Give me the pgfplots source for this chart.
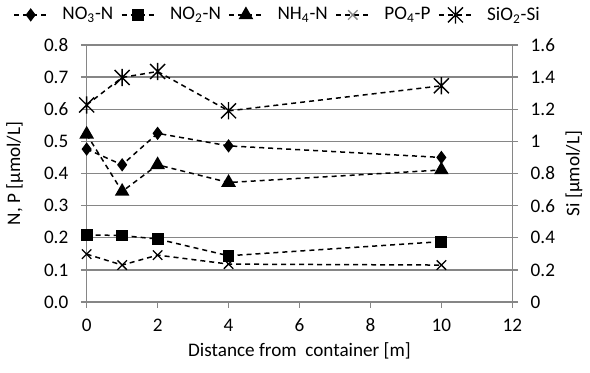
\documentclass[border=0pt]{standalone}
\usepackage{pgfplots}
\pgfplotsset{compat=1.18}
\usepackage{fontspec}
\setmainfont{Carlito}
\definecolor{axgray}{RGB}{134,134,134}
\pgfdeclareplotmark{xstar}{%
  \pgfpathmoveto{\pgfqpoint{-\pgfplotmarksize}{-\pgfplotmarksize}}%
  \pgfpathlineto{\pgfqpoint{\pgfplotmarksize}{\pgfplotmarksize}}%
  \pgfpathmoveto{\pgfqpoint{-\pgfplotmarksize}{\pgfplotmarksize}}%
  \pgfpathlineto{\pgfqpoint{\pgfplotmarksize}{-\pgfplotmarksize}}%
  \pgfpathmoveto{\pgfqpoint{0pt}{-1.15\pgfplotmarksize}}%
  \pgfpathlineto{\pgfqpoint{0pt}{1.15\pgfplotmarksize}}%
  \pgfusepathqstroke
}
\pgfplotsset{
  base/.style={
    scale only axis, width=255.4pt, height=154.2pt,
    at={(0,0)}, anchor=south west,
    xmin=0, xmax=12,
    font=\fontsize{11.5pt}{13pt}\selectfont,
    /pgf/number format/assume math mode=true,
    tick align=outside, major tick length=3.5pt,
    axis line style={axgray, line width=0.8pt},
    tick style={axgray, line width=0.8pt},
  },
  ser/.style={black, line width=0.9pt, dash pattern=on 3pt off 2.4pt},
  legend image code/.code={\path[draw=none,fill=none] (-1pt,0pt) rectangle (27pt,0.1pt);\draw[mark repeat=2,mark phase=2,#1] plot coordinates {(0pt,0pt) (10pt,0pt) (20pt,0pt)};},
}
\begin{document}
\begin{tikzpicture}
\useasboundingbox (-52pt,-42pt) rectangle (302pt,181.2pt);
\begin{axis}[base,
  ymin=0, ymax=0.8,
  xtick={0,2,4,6,8,10,12},
  ytick={0,0.1,0.2,0.3,0.4,0.5,0.6,0.7,0.8},
  yticklabel style={xshift=-4pt, /pgf/number format/.cd, fixed, fixed zerofill, precision=1},
  xticklabel style={yshift=-3pt},
  axis x line*=bottom, axis y line*=left,
  ymajorgrids, grid style={axgray, line width=0.8pt},
  xlabel={Distance from\ \ container [m]},
  ylabel={N, P [µmol/L]},
  xlabel style={at={(axis description cs:0.5,-0.19)}, anchor=center},
  ylabel style={at={(axis description cs:-0.169,0.5)}, anchor=center},
]
\addplot[ser, mark=diamond*, mark size=3.3pt, mark options={solid, fill=black}] coordinates {(0,0.476) (1,0.427) (2,0.525) (4,0.486) (10,0.450)};
\addplot[ser, mark=square*, mark size=3.1pt, mark options={solid, fill=black}] coordinates {(0,0.209) (1,0.207) (2,0.196) (4,0.144) (10,0.188)};
\addplot[ser, mark=triangle*, mark size=4.2pt, mark options={solid, fill=black}] coordinates {(0,0.522) (1,0.344) (2,0.427) (4,0.372) (10,0.411)};
\addplot[ser, mark=x, mark size=4pt, mark options={solid, line width=0.8pt}] coordinates {(0,0.149) (1,0.115) (2,0.146) (4,0.118) (10,0.115)};
\end{axis}
\begin{axis}[base,
  ymin=0, ymax=1.6,
  ytick={0,0.2,0.4,0.6,0.8,1,1.2,1.4,1.6},
  yticklabel style={xshift=4pt},
  axis x line=none, axis y line*=right,
  ylabel={Si [µmol/L]},
  ylabel style={at={(axis description cs:1.145,0.5)}, anchor=center},
  legend columns=5,
  legend style={at={(axis description cs:-0.187,1.117)}, anchor=west, draw=none, fill=none,
    font=\fontsize{11.5pt}{13pt}\selectfont,
    /tikz/every even column/.append style={column sep=2pt}},
]
\addlegendimage{ser, mark=diamond*, mark size=3.3pt, mark options={solid, fill=black}}
\addlegendentry{NO\textsubscript{3}-N}
\addlegendimage{ser, mark=square*, mark size=3.1pt, mark options={solid, fill=black}}
\addlegendentry{NO\textsubscript{2}-N}
\addlegendimage{ser, mark=triangle*, mark size=4.2pt, mark options={solid, fill=black}}
\addlegendentry{NH\textsubscript{4}-N}
\addlegendimage{ser, mark=x, mark size=4pt, mark options={solid, line width=0.8pt, draw=axgray}}
\addlegendentry{PO\textsubscript{4}-P}
\addplot[ser, mark=xstar, mark size=4.5pt, mark options={solid, line width=0.8pt}] coordinates {(0,1.227) (1,1.398) (2,1.435) (4,1.190) (10,1.346)};
\addlegendentry{SiO\textsubscript{2}-Si}
\end{axis}
\end{tikzpicture}
\end{document}
